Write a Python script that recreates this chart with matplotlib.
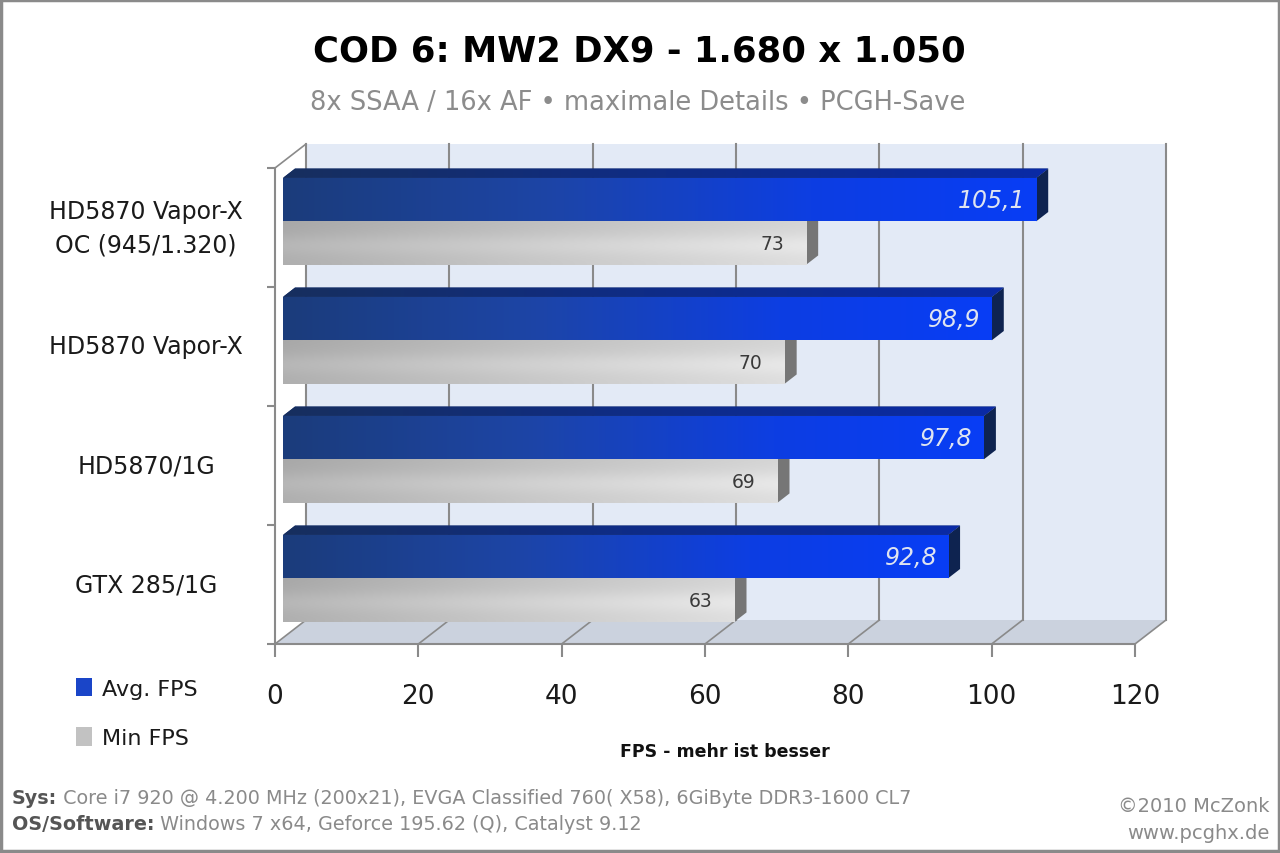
import numpy as np
import matplotlib
matplotlib.use("Agg")
import matplotlib.pyplot as plt
from matplotlib.patches import Polygon, Rectangle, Patch
from matplotlib.lines import Line2D
from matplotlib.transforms import ScaledTranslation, IdentityTransform, blended_transform_factory
from matplotlib.colors import to_rgb

# ---------------- data ----------------
categories = ["HD5870 Vapor-X\nOC (945/1.320)", "HD5870 Vapor-X", "HD5870/1G", "GTX 285/1G"]
avg_fps = [105.1, 98.9, 97.8, 92.8]
min_fps = [73, 70, 69, 63]
series_names = ["Avg. FPS", "Min FPS"]
x_ticks = [0, 20, 40, 60, 80, 100, 120]

title = "COD 6: MW2 DX9 - 1.680 x 1.050"
subtitle = "8x SSAA / 16x AF \u2022 maximale Details \u2022 PCGH-Save"
xlabel = "FPS - mehr ist besser"
foot1_bold, foot1 = "Sys:", " Core i7 920 @ 4.200 MHz (200x21), EVGA Classified 760( X58), 6GiByte DDR3-1600 CL7"
foot2_bold, foot2 = "OS/Software:", " Windows 7 x64, Geforce 195.62 (Q), Catalyst 9.12"
credit1, credit2 = "\u00a92010 McZonk", "www.pcghx.de"

# ---------------- figure ----------------
plt.rcParams["font.family"] = ["DejaVu Sans"]
W, H = 1280, 854
fig = plt.figure(figsize=(W / 100, H / 100), dpi=100)
fig.patch.set_facecolor("white")

ax = fig.add_axes([275 / W, 1 - 645 / H, 860 / W, 476 / H])
ax.set_xlim(0, 120)
ax.set_ylim(0, len(categories))
ax.set_autoscale_on(False)
ax.patch.set_visible(False)

ID = IdentityTransform()
DX, DY = 31.0, 24.0          # depth of the 3d box in pixels
DF, DB = 8 / 31, 20 / 31     # bar front / back depth fractions


def P(x, y, d):
    px, py = ax.transData.transform((x, y))
    return (px + d * DX, py + d * DY)


def shift(dx_px, dy_px):
    return ax.transData + ScaledTranslation(dx_px / 100, dy_px / 100, fig.dpi_scale_trans)


xmax = x_ticks[-1]
ytop = len(categories)

# back wall & floor
ax.add_patch(Polygon([P(0, 0, 1), P(xmax, 0, 1), P(xmax, ytop, 1), P(0, ytop, 1)],
                     closed=True, transform=ID, facecolor="#E3EAF6", edgecolor="none",
                     zorder=0.1, clip_on=False))
ax.add_patch(Polygon([P(0, 0, 0), P(xmax, 0, 0), P(xmax, 0, 1), P(0, 0, 1)],
                     closed=True, transform=ID, facecolor="#CBD2DE", edgecolor="none",
                     zorder=0.2, clip_on=False))

GRID = "#8a8a8a"
for xv in x_ticks:
    a, b = P(xv, 0, 1), P(xv, ytop, 1)
    ax.add_line(Line2D([a[0], b[0]], [a[1], b[1]], transform=ID, color=GRID, lw=1.5,
                       zorder=0.3, clip_on=False))
    a, b = P(xv, 0, 0), P(xv, 0, 1)
    ax.add_line(Line2D([a[0], b[0]], [a[1], b[1]], transform=ID, color=GRID, lw=1.2,
                       zorder=0.3, clip_on=False))
a, b = P(0, ytop, 0), P(0, ytop, 1)
ax.add_line(Line2D([a[0], b[0]], [a[1], b[1]], transform=ID, color=GRID, lw=1.2,
                   zorder=0.3, clip_on=False))

# axes styling (front plane)
for s in ["top", "right"]:
    ax.spines[s].set_visible(False)
for s in ["left", "bottom"]:
    ax.spines[s].set_color(GRID)
    ax.spines[s].set_linewidth(1.5)
    ax.spines[s].set_zorder(0.35)
ax.set_xticks(x_ticks)
ax.set_xticklabels([str(t) for t in x_ticks])
ax.set_yticks(range(len(categories) + 1))
ax.set_yticklabels([])
ax.tick_params(axis="x", direction="out", length=9, width=1.5, color=GRID,
               labelsize=19, labelcolor="#1a1a1a", pad=19)
ax.tick_params(axis="y", direction="out", length=6, width=1.5, color=GRID)

# ---------------- bars ----------------
BH = 0.365
centers = [len(categories) - 0.5 - k for k in range(len(categories))]
blue_y = [c for c in centers]
gray_y = [c - BH for c in centers]

tr_front = shift(DF * DX, DF * DY)


def hgrad(stops, n=256):
    xs = np.linspace(0, 1, n)
    pos = [s[0] for s in stops]
    cols = np.array([to_rgb(s[1]) for s in stops])
    out = np.stack([np.interp(xs, pos, cols[:, i]) for i in range(3)], axis=-1)
    return out


blue_stops = [(0, "#1b3c7b"), (0.35, "#1d45a6"), (0.7, "#0d3ee2"), (1, "#083df5")]
blue_top_stops = [(0, "#172f5e"), (0.5, "#0f2c86"), (1, "#0a2aa6")]
gray_stops = [(0, "#afafaf"), (0.5, "#c8c8c8"), (1, "#dedede")]

gray_bars = ax.barh(gray_y, min_fps, height=BH, align="edge", color="#c4c4c4",
                    edgecolor="none", zorder=2)
blue_bars = ax.barh(blue_y, avg_fps, height=BH, align="edge", color="#1a45c8",
                    edgecolor="none", zorder=4)

for bars, vals, ys, stops, zimg, side_col in [
        (gray_bars, min_fps, gray_y, gray_stops, 2.1, "#767676"),
        (blue_bars, avg_fps, blue_y, blue_stops, 4.1, "#0e2350")]:
    for rect, v, y0 in zip(bars, vals, ys):
        rect.set_transform(tr_front)
        rect.set_clip_on(False)
        g = hgrad(stops)
        if side_col == "#767676":
            vy = np.linspace(0, 1, 64)[:, None, None]
            shade = 1.0 + 0.06 * np.exp(-((vy - 0.55) / 0.25) ** 2) - 0.04 * (1 - vy)
            img = np.clip(g[None, :, :] * shade, 0, 1)
        else:
            img = np.repeat(g[None, :, :], 8, axis=0)
        im = ax.imshow(img, extent=(0, v, y0, y0 + BH), transform=tr_front, aspect="auto",
                       interpolation="bilinear", zorder=zimg)
        im.set_clip_path(rect)
        # side face
        y1 = y0 + BH
        ax.add_patch(Polygon([P(v, y0, DF), P(v, y0, DB), P(v, y1, DB), P(v, y1, DF)],
                             closed=True, transform=ID, facecolor=side_col, edgecolor="none",
                             zorder=zimg - 0.05, clip_on=False))

# top faces of the blue bars
for v, y0 in zip(avg_fps, blue_y):
    y1 = y0 + BH
    pts = [P(0, y1, DF), P(v, y1, DF), P(v, y1, DB), P(0, y1, DB)]
    poly = Polygon(pts, closed=True, transform=ID, facecolor="#132e70", edgecolor="none",
                   zorder=4.2, clip_on=False)
    ax.add_patch(poly)
    xs = [p[0] for p in pts]
    ys = [p[1] for p in pts]
    im = ax.imshow(np.repeat(hgrad(blue_top_stops)[None], 4, axis=0),
                   extent=(min(xs), max(xs), min(ys), max(ys)), transform=ID,
                   aspect="auto", interpolation="bilinear", zorder=4.25)
    im.set_clip_path(poly)
    im.set_clip_box(fig.bbox)

# value labels
def fmt(v):
    return (f"{v:.1f}".replace(".", ",")) if abs(v - round(v)) > 1e-9 else str(int(round(v)))

tr_blab = shift(DF * DX - 11, DF * DY)
tr_glab = shift(DF * DX - 22, DF * DY)
for v, y0 in zip(avg_fps, blue_y):
    ax.text(v, y0 + BH / 2, fmt(v), transform=tr_blab, ha="right", va="center",
            fontsize=17, style="italic", color="#dfe4f0", zorder=6, clip_on=False)
for v, y0 in zip(min_fps, gray_y):
    ax.text(v, y0 + BH / 2, fmt(v), transform=tr_glab, ha="right", va="center",
            fontsize=13.5, color="#3a3a3a", zorder=6, clip_on=False)

# category labels
tr_cat = blended_transform_factory(fig.transFigure, ax.transData)
for lab, c in zip(categories, centers):
    ax.text(146 / W, c, lab, transform=tr_cat, ha="center", va="center", fontsize=17,
            color="#1a1a1a", linespacing=1.5, clip_on=False)

# ---------------- texts ----------------
fig.text(639 / W, 1 - 52 / H, title, ha="center", va="center", fontsize=25.5,
         fontweight="bold", color="#000000")
fig.text(638 / W, 1 - 103 / H, subtitle, ha="center", va="center", fontsize=18.5,
         color="#8c8c8c")
fig.text(725 / W, 1 - 752 / H, xlabel, ha="center", va="center", fontsize=12.5,
         fontweight="bold", color="#111111")

# legend
handles = [Patch(facecolor="#1a45c8", edgecolor="none"),
           Patch(facecolor="#c2c2c2", edgecolor="none")]
leg = ax.legend(handles, series_names, loc="upper left", bbox_to_anchor=(76 / W, 1 - 679 / H),
                bbox_transform=fig.transFigure, frameon=False, fontsize=16,
                handlelength=0.7, handleheight=0.9, handletextpad=0.45, labelspacing=1.27,
                borderaxespad=0, borderpad=0)
for t in leg.get_texts():
    t.set_color("#1a1a1a")

# footer
FS = 13.8
t1 = fig.text(12 / W, 1 - 799 / H, foot1_bold, ha="left", va="center", fontsize=FS,
              fontweight="bold", color="#555555")
ax.annotate(foot1, xy=(1, 0), xycoords=t1, ha="left", va="bottom", fontsize=FS,
            color="#8a8a8a", annotation_clip=False)
t2 = fig.text(12 / W, 1 - 825 / H, foot2_bold, ha="left", va="center", fontsize=FS,
              fontweight="bold", color="#555555")
ax.annotate(foot2, xy=(1, 0), xycoords=t2, ha="left", va="bottom", fontsize=FS,
            color="#8a8a8a", annotation_clip=False)
fig.text(1270 / W, 1 - 807 / H, credit1, ha="right", va="center", fontsize=14,
         color="#8a8a8a")
fig.text(1270 / W, 1 - 834 / H, credit2, ha="right", va="center", fontsize=14,
         color="#8a8a8a")

# outer frame
fig.add_artist(Rectangle((0.001, 0.002), 0.998, 0.997, transform=fig.transFigure, fill=False,
                         edgecolor="#8a8a8a", lw=2.5))

fig.savefig("out.png", dpi=100)
